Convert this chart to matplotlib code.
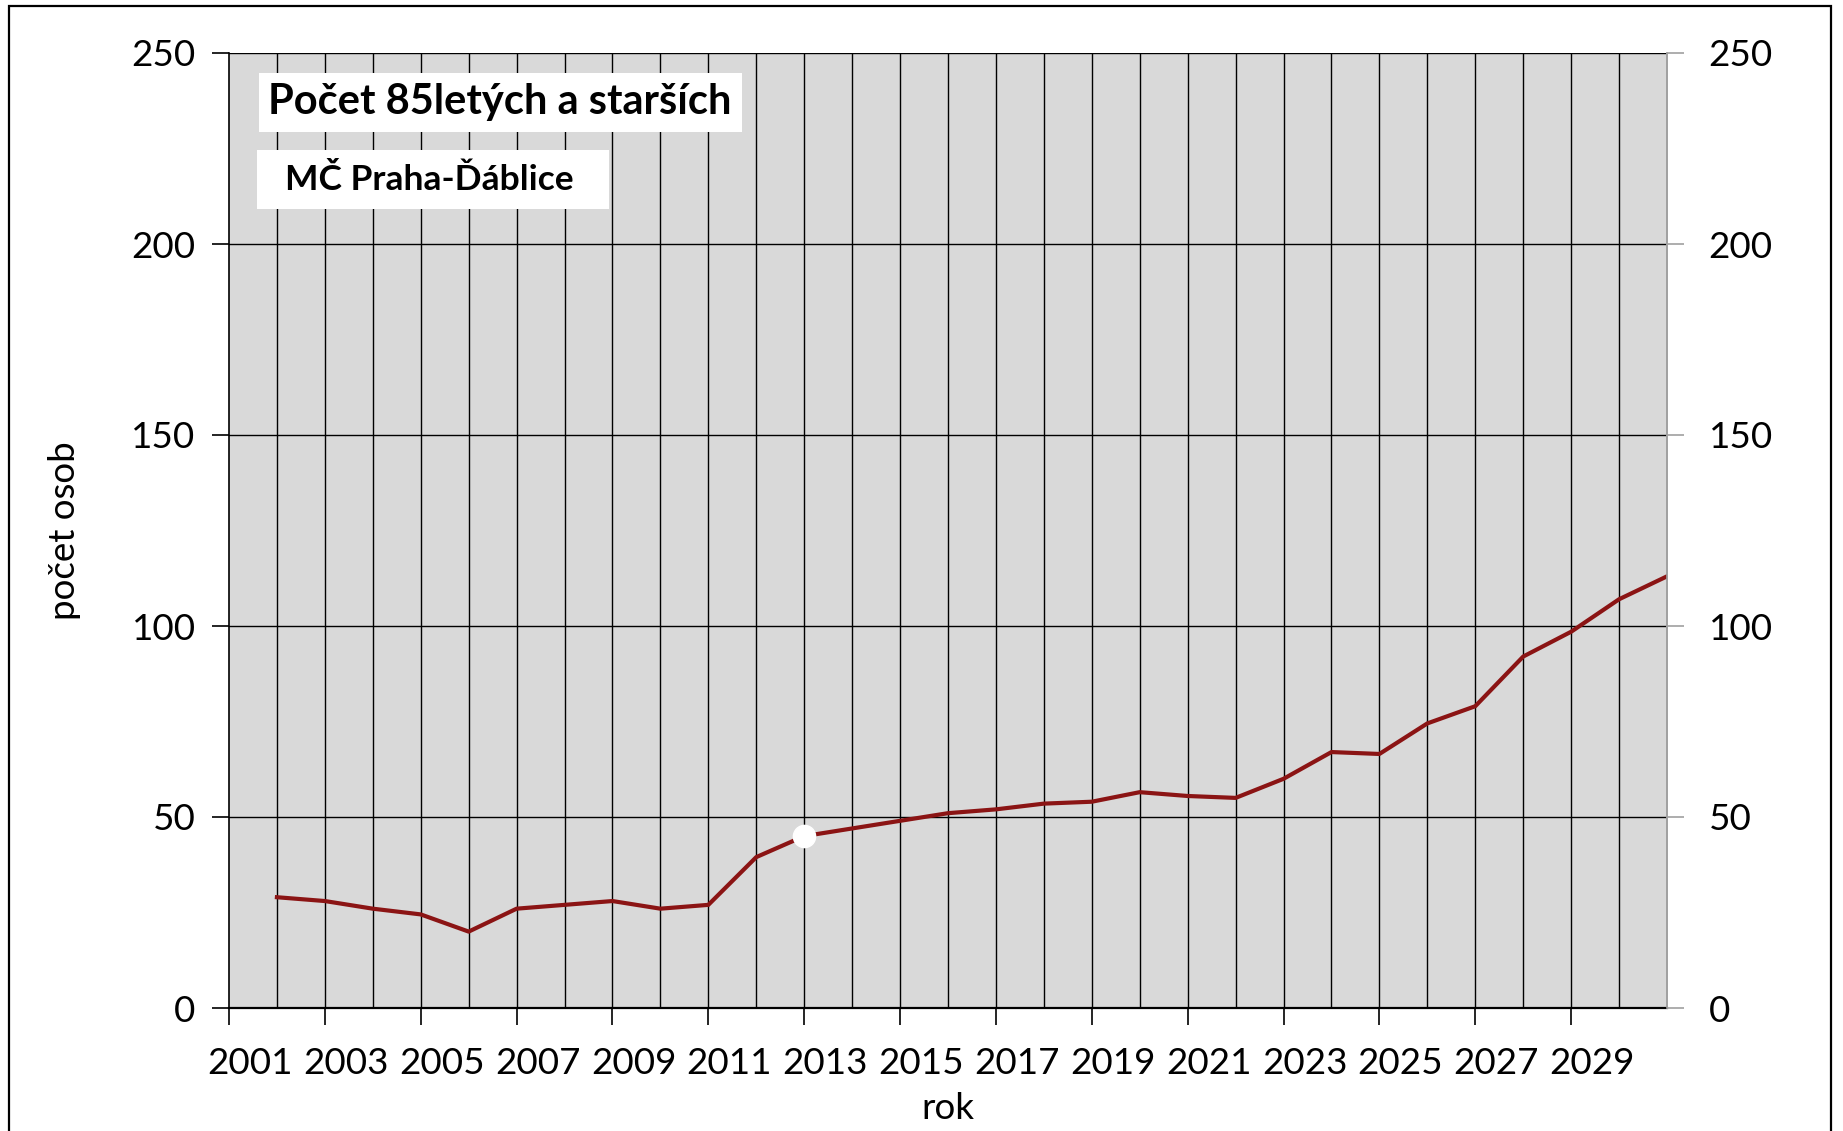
import matplotlib
matplotlib.use("Agg")
import matplotlib.pyplot as plt
from matplotlib.transforms import ScaledTranslation
from matplotlib.patches import Rectangle

plt.rcParams['font.family'] = ['Lato', 'DejaVu Sans']

years = list(range(2002, 2032))
values = [29, 28, 26, 24.5, 20, 26, 27, 28, 26, 27,
          39.5, 45, 47, 49, 51, 52, 53.5, 54, 56.5, 55.5,
          55, 60, 67, 66.5, 74.5, 79, 92, 98.5, 107, 113]
highlight_year = 2013
tick_years = list(range(2001, 2031, 2))
tick_labels = [str(y) for y in tick_years]
y_ticks = [0, 50, 100, 150, 200, 250]

title = "Počet 85letých a starších"
subtitle = "MČ Praha-Ďáblice"
xlabel = "rok"
ylabel = "počet osob"

W, H = 1843, 1131
fig = plt.figure(figsize=(W / 100, H / 100), dpi=100)
ax = fig.add_axes([229 / W, 1 - 1008 / H, (1667 - 229) / W, (1008 - 53) / H])
ax.set_facecolor('#d9d9d9')

ax.set_xlim(2001, 2031)
ax.set_ylim(0, 250)

# grid
ax.set_xticks(range(2002, 2031), minor=True)
ax.set_yticks(y_ticks)
ax.grid(True, which='major', axis='y', color='black', linewidth=1.0)
ax.grid(True, which='minor', axis='x', color='black', linewidth=1.0)
ax.grid(False, which='major', axis='x')
for y in tick_years[1:]:
    ax.axvline(y, color='black', linewidth=1.0, zorder=0.6)

ax.plot(years, values, color='#8b1414', linewidth=3.0, zorder=3, solid_joinstyle='round')
hv = values[years.index(highlight_year)]
ax.plot([highlight_year], [hv], marker='o', markersize=16, color='white',
        markeredgecolor='white', zorder=4, linestyle='none')

FS = 26.5
ax.set_xticks(tick_years)
ax.set_xticklabels(tick_labels)
ax.tick_params(axis='x', which='major', direction='out', length=12, width=1.2,
               color='black', labelsize=FS, pad=16)
ax.tick_params(axis='x', which='minor', length=0)
ax.tick_params(axis='y', direction='out', length=12, width=1.2, color='black',
               labelsize=FS, pad=12)
for lab in ax.get_xticklabels():
    lab.set_transform(lab.get_transform() + ScaledTranslation(0.21, 0, fig.dpi_scale_trans))

ax.spines['top'].set_visible(False)
ax.spines['right'].set_color('#a0a0a0')
ax.spines['right'].set_linewidth(1.2)
ax.spines['left'].set_color('black')
ax.spines['left'].set_linewidth(1.2)
ax.spines['bottom'].set_color('black')
ax.spines['bottom'].set_linewidth(1.6)

ax2 = ax.twinx()
ax2.set_ylim(0, 250)
ax2.set_yticks(y_ticks)
ax2.tick_params(axis='y', direction='out', length=12, width=1.2, color='#a0a0a0',
                labelsize=FS, pad=18)
for s in ['top', 'left', 'bottom']:
    ax2.spines[s].set_visible(False)
ax2.spines['right'].set_color('#a0a0a0')
ax2.spines['right'].set_linewidth(1.2)

ax.set_xlabel(xlabel, fontsize=FS, labelpad=9)
ax.set_ylabel(ylabel, fontsize=FS, labelpad=36)

# white label boxes (figure pixel coordinates from the top-left)
def box(x0, y0, x1, y1):
    fig.patches.append(Rectangle((x0 / W, 1 - y1 / H), (x1 - x0) / W, (y1 - y0) / H,
                                 transform=fig.transFigure, facecolor='white',
                                 edgecolor='none', zorder=5))

box(259, 73, 742, 132)
box(257, 150, 609, 209)
fig.text(268 / W, 1 - 102 / H, title, fontsize=30, fontweight='bold', va='center', ha='left',
         zorder=6)
fig.text(285 / W, 1 - 180 / H, subtitle, fontsize=25.5, fontweight='bold', va='center', ha='left',
         zorder=6)

fig.patches.append(Rectangle((9 / W, -0.05), (1831 - 9) / W, 1.05 - 6 / H,
                             transform=fig.transFigure, fill=False,
                             edgecolor='black', linewidth=1.6))

fig.savefig('out.png', dpi=100)
